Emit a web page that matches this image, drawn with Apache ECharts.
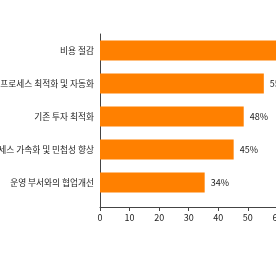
<!DOCTYPE html>
<html><head><meta charset="utf-8">
<script src="https://cdn.jsdelivr.net/npm/echarts@6/dist/echarts.min.js"></script>
<style>html,body{margin:0;padding:0;background:#fff;}#c{width:276px;height:260px;}</style>
</head><body><div id="c"></div>
<script>
const categories = ['비용 절감','프로세스 최적화 및 자동화','기존 투자 최적화','프로세스 가속화 및 민첩성 향상','운영 부서와의 협업개선'];
const values = [64, 55.4, 48.6, 45.2, 35.4];
const valueLabels = ['64%','55%','48%','45%','34%'];
const xTicks = [0, 10, 20, 30, 40, 50, 60, 70];

const chart = echarts.init(document.getElementById('c'), null, {renderer:'canvas'});
const font = '"Noto Sans CJK KR", "Noto Sans", sans-serif';
chart.setOption({
  animation:false,
  backgroundColor:'#fff',
  grid:[
    {left:100, right:-31, top:34, bottom:61, containLabel:false, outerBoundsMode:'none'},
    {left:100, right:-31, top:34, bottom:53, containLabel:false, outerBoundsMode:'none'}
  ],
  xAxis:[
    {gridIndex:0, type:'value', min:xTicks[0], max:xTicks[xTicks.length-1], interval:10, offset:8,
     axisLine:{show:true, lineStyle:{color:'#444', width:1}},
     axisTick:{show:true, length:4, lineStyle:{color:'#444'}},
     splitLine:{show:false},
     axisLabel:{color:'#222', fontSize:9, fontFamily:font, margin:6}},
    {gridIndex:1, type:'value', show:false, min:0, max:70}
  ],
  yAxis:[
    {gridIndex:0, type:'category', data:categories, inverse:true,
     axisLine:{show:false}, axisTick:{show:false},
     axisLabel:{color:'#222', fontSize:8.7, fontFamily:font, margin:6}},
    {gridIndex:1, type:'value', min:0, max:1,
     axisLine:{show:true, lineStyle:{color:'#444', width:1}},
     axisTick:{show:false}, axisLabel:{show:false}, splitLine:{show:false}}
  ],
  series:[{
    type:'bar', xAxisIndex:0, yAxisIndex:0,
    data: values,
    barWidth:20,
    itemStyle:{color:'#FF8000'},
    label:{show:true, position:'right', distance:6, color:'#222', fontSize:9, fontFamily:font,
      formatter:p=>valueLabels[p.dataIndex]}
  }]
});
</script></body></html>
